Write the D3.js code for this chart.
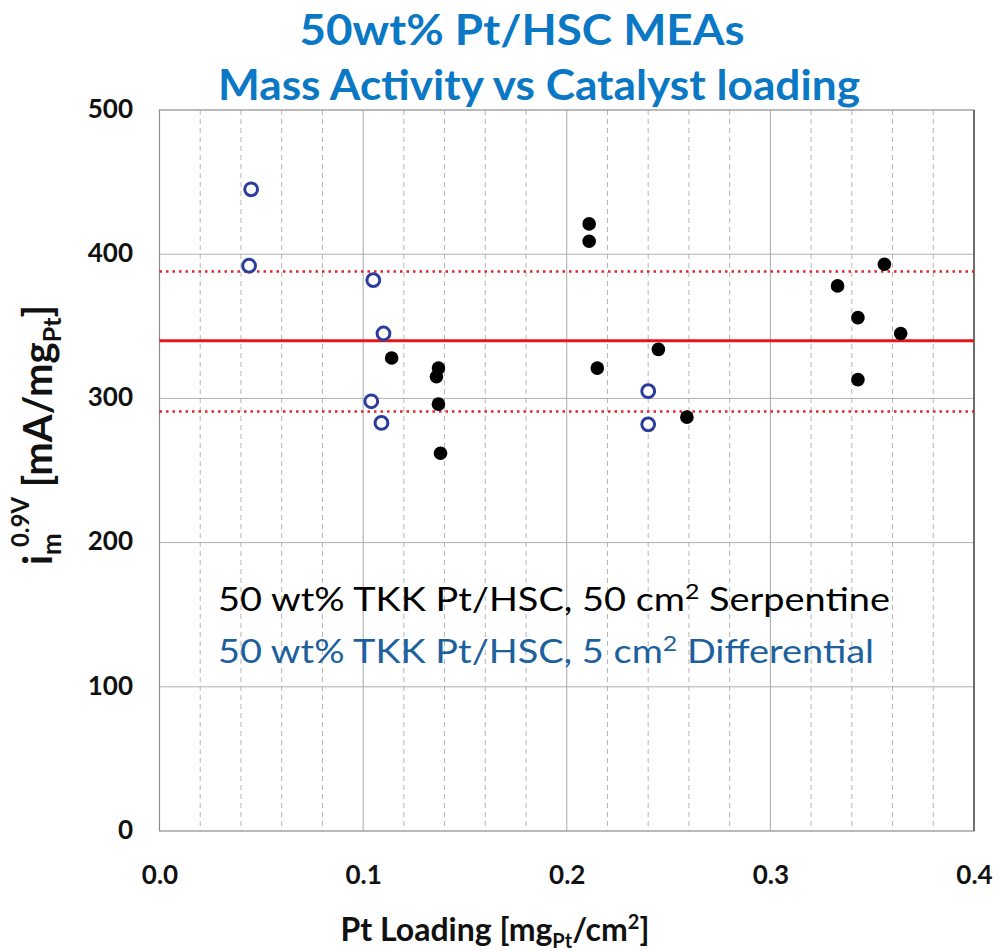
<!DOCTYPE html>
<html>
<head>
<meta charset="UTF-8">
<title>50wt% Pt/HSC MEAs</title>
<script src="https://cdn.jsdelivr.net/npm/d3@7"></script>
<style>
  body { margin: 0; background: #fff; }
  svg { font-family: Lato, "Open Sans", sans-serif; }
</style>
</head>
<body>
<svg id="chart" width="1000" height="951"></svg>
<script>
// 50 cm2 serpentine cells (filled black)
const serpX = [0.114, 0.137, 0.136, 0.137, 0.138, 0.211, 0.211, 0.215, 0.245, 0.259, 0.333, 0.356, 0.343, 0.364, 0.343];
const serpY = [328, 321, 315, 296, 262, 421, 409, 321, 334, 287, 378, 393, 356, 345, 313];
// 5 cm2 differential cells (open blue)
const diffX = [0.045, 0.044, 0.105, 0.110, 0.104, 0.109, 0.240, 0.240];
const diffY = [445, 392, 382, 345, 298, 283, 305, 282];
// mean and +/- band
const meanVal = 340;
const bandVals = [388, 291];

const xTicks = [0, 0.1, 0.2, 0.3, 0.4];
const xMinor = [0.02, 0.04, 0.06, 0.08, 0.12, 0.14, 0.16, 0.18, 0.22, 0.24, 0.26, 0.28, 0.32, 0.34, 0.36, 0.38];
const yTicks = [0, 100, 200, 300, 400, 500];

const pL = 159.5, pR = 974, pT = 110, pB = 831;
const svg = d3.select('#chart');

const x = d3.scaleLinear().domain([0, 0.4]).range([pL, pR]);
const y = d3.scaleLinear().domain([0, 500]).range([pB, pT]);

// grid
svg.append('g').selectAll('line').data(xMinor).join('line')
  .attr('x1', d => x(d)).attr('x2', d => x(d))
  .attr('y1', pT).attr('y2', pB)
  .attr('stroke', '#b5b5b5').attr('stroke-width', 1).attr('stroke-dasharray', '5,4');
svg.append('g').selectAll('line').data(xTicks.slice(1, -1)).join('line')
  .attr('x1', d => x(d)).attr('x2', d => x(d))
  .attr('y1', pT).attr('y2', pB)
  .attr('stroke', '#a8a8a8').attr('stroke-width', 1);
svg.append('g').selectAll('line').data(yTicks.slice(1, -1)).join('line')
  .attr('x1', pL).attr('x2', pR)
  .attr('y1', d => y(d)).attr('y2', d => y(d))
  .attr('stroke', '#b0b0b0').attr('stroke-width', 1);

// frame
svg.append('rect')
  .attr('x', pL).attr('y', pT)
  .attr('width', pR - pL).attr('height', pB - pT)
  .attr('fill', 'none').attr('stroke', '#8c8c8c').attr('stroke-width', 1.2);
svg.append('line')
  .attr('x1', pR).attr('x2', pR).attr('y1', pT).attr('y2', pB)
  .attr('stroke', '#555').attr('stroke-width', 1.5);

// mean and band lines
svg.append('line')
  .attr('x1', pL).attr('x2', pR)
  .attr('y1', y(meanVal)).attr('y2', y(meanVal))
  .attr('stroke', '#e8141b').attr('stroke-width', 3);
svg.append('g').selectAll('line').data(bandVals).join('line')
  .attr('x1', pL).attr('x2', pR)
  .attr('y1', d => y(d)).attr('y2', d => y(d))
  .attr('stroke', '#e0242a').attr('stroke-width', 2.5)
  .attr('stroke-dasharray', '2.5,4');

// points
svg.append('g').selectAll('circle').data(diffX.map((d, i) => [d, diffY[i]])).join('circle')
  .attr('cx', d => x(d[0])).attr('cy', d => y(d[1])).attr('r', 6.4)
  .attr('fill', '#fff').attr('stroke', '#2b3c9c').attr('stroke-width', 3);
svg.append('g').selectAll('circle').data(serpX.map((d, i) => [d, serpY[i]])).join('circle')
  .attr('cx', d => x(d[0])).attr('cy', d => y(d[1])).attr('r', 6.8)
  .attr('fill', '#000');

// axes tick labels
const xAxis = d3.axisBottom(x).tickValues(xTicks).tickFormat(d3.format('.1f')).tickSize(0).tickPadding(0);
const gx = svg.append('g').attr('transform', `translate(0,884)`).call(xAxis)
  .attr('font-family', null).attr('font-size', null);
gx.select('.domain').remove();
gx.selectAll('text').attr('dy', 0)
  .attr('font-size', 26).attr('font-weight', 'bold').attr('fill', '#111');

const yAxis = d3.axisLeft(y).tickValues(yTicks).tickSize(0).tickPadding(0);
const gy = svg.append('g').attr('transform', `translate(133,0)`).call(yAxis)
  .attr('font-family', null).attr('font-size', null);
gy.select('.domain').remove();
gy.selectAll('text').attr('dy', '0.28em')
  .attr('font-size', 26).attr('font-weight', 'bold').attr('fill', '#111');

// title
const titleColor = '#0a78c4';
svg.append('text').attr('x', 522).attr('y', 45).attr('text-anchor', 'middle')
  .attr('font-size', 42).attr('font-weight', 'bold').attr('fill', titleColor)
  .attr('textLength', 445).attr('lengthAdjust', 'spacingAndGlyphs')
  .text('50wt% Pt/HSC MEAs');
svg.append('text').attr('x', 539).attr('y', 100).attr('text-anchor', 'middle')
  .attr('font-size', 42).attr('font-weight', 'bold').attr('fill', titleColor)
  .attr('textLength', 642).attr('lengthAdjust', 'spacingAndGlyphs')
  .text('Mass Activity vs Catalyst loading');

// annotation
const ann1 = svg.append('text').attr('x', 218).attr('y', 611)
  .attr('font-size', 32).attr('fill', '#000')
  .attr('textLength', 672).attr('lengthAdjust', 'spacingAndGlyphs');
ann1.append('tspan').text('50 wt% TKK Pt/HSC, 50 cm');
ann1.append('tspan').attr('font-size', 21).attr('dy', -12).text('2');
ann1.append('tspan').attr('dy', 12).text(' Serpentine');

const ann2 = svg.append('text').attr('x', 218).attr('y', 663)
  .attr('font-size', 32).attr('fill', '#1c609e')
  .attr('textLength', 656).attr('lengthAdjust', 'spacingAndGlyphs');
ann2.append('tspan').text('50 wt% TKK Pt/HSC, 5 cm');
ann2.append('tspan').attr('font-size', 21).attr('dy', -12).text('2');
ann2.append('tspan').attr('dy', 12).text(' Differential');

// x axis title
const xt = svg.append('text').attr('x', 495).attr('y', 941).attr('text-anchor', 'middle')
  .attr('font-size', 32).attr('font-weight', 'bold').attr('fill', '#111');
xt.append('tspan').text('Pt Loading [mg');
xt.append('tspan').attr('font-size', 20).attr('dy', 7).text('Pt');
xt.append('tspan').attr('dy', -7).text('/cm');
xt.append('tspan').attr('font-size', 20).attr('dy', -12).text('2');
xt.append('tspan').attr('dy', 12).text(']');

// y axis title
const yt = svg.append('text').attr('transform', 'translate(52,435) rotate(-90)')
  .attr('text-anchor', 'middle')
  .attr('font-size', 40).attr('font-weight', 'bold').attr('fill', '#111');
yt.append('tspan').text('i');
yt.append('tspan').attr('font-size', 26).attr('dy', 9).text('m');
yt.append('tspan').attr('font-size', 24).attr('dy', -32).attr('dx', -14).text('0.9V');
yt.append('tspan').attr('dy', 23).text(' [mA/mg');
yt.append('tspan').attr('font-size', 25).attr('dy', 9).text('Pt');
yt.append('tspan').attr('dy', -9).text(']');
</script>
</body>
</html>
